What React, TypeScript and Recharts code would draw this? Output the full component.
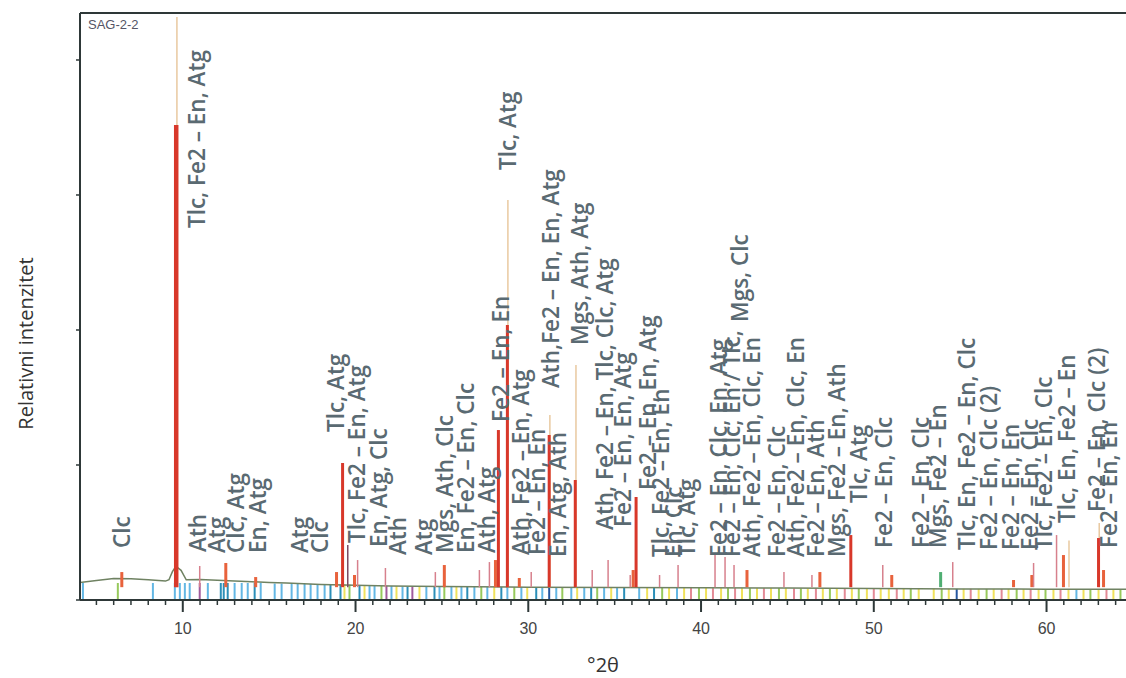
import React from "react"
import { ComposedChart, Line, Scatter, XAxis, YAxis, ReferenceLine } from "recharts"

// 2θ range and intensity scale (arbitrary counts)
const X_MIN = 4.05
const X_MAX = 64.6
const Y_MAX = 4348
const yTicks = [0, 1000, 2000, 3000, 4000]
const majorTicks = [10, 20, 30, 40, 50, 60]
const minorTicks = Array.from({ length: 60 }, (_, i) => i + 5)

// background profile of the diffractogram [2θ, intensity]
const background: [number, number][] = [
  [4.05, 130], [5, 145], [6, 160], [7, 158], [8, 150], [9, 140], [9.2, 150],
  [9.4, 210], [9.6, 250], [9.9, 220], [10.2, 150], [11, 152], [12, 146], [13, 140],
  [14, 135], [15, 130], [16, 125], [17, 120], [18, 115], [20, 110], [22, 104],
  [25, 100], [30, 95], [35, 93], [40, 90], [45, 88], [50, 85], [55, 82],
  [60, 80], [64.6, 80],
]

// measured peaks [2θ, top]
const strongPeaks: [number, number][] = [[9.62, 3518]]
const mainPeaks: [number, number][] = [
  [19.25, 1015], [28.27, 1259], [28.79, 2037], [31.21, 1222],
  [32.72, 889], [36.24, 763], [48.67, 481], [63.01, 459],
]
const tanPeaks: [number, number][] = [
  [9.66, 4318], [28.82, 2963], [31.25, 1370], [32.76, 1741], [61.3, 440], [63.05, 570],
]
const minorPeaks: [number, number][] = [
  [10.98, 252], [20.12, 296], [21.73, 237], [24.62, 207], [27.17, 222],
  [27.75, 281], [30.17, 207], [33.7, 222], [34.62, 296], [35.9, 185],
  [37.6, 185], [38.67, 259], [40.81, 333], [41.39, 318], [41.91, 259],
  [44.8, 207], [46.42, 185], [50.52, 259], [54.57, 281], [59.25, 274], [60.58, 481],
]
const darkPeaks: [number, number][] = [[19.55, 407]]
const bumpPeaks: [number, number][] = [
  [6.47, 207], [12.49, 274], [14.22, 170], [18.9, 207], [19.94, 185],
  [25.14, 259], [28.1, 296], [29.48, 163], [36.07, 222], [42.66, 222],
  [46.88, 207], [51.04, 185], [58.09, 148], [59.15, 185], [60.98, 333], [63.3, 222],
]
const greenPeaks: [number, number][] = [[53.87, 207]]

// reference patterns (sticks) [2θ, height]
const atgSticks: [number, number][] = [
  [4.22, 126], [8.27, 126], [9.54, 126], [9.83, 126], [10.12, 126], [10.4, 126],
  [11.45, 126], [13.0, 126], [13.41, 126], [13.76, 126], [14.51, 126], [15.32, 122],
  [15.72, 122], [16.3, 122], [16.65, 122], [17.05, 120], [17.4, 120], [17.8, 118],
  [18.21, 118], [20.81, 104], [21.1, 104], [22.08, 104], [22.72, 100], [24.1, 100],
  [24.86, 100], [25.55, 100], [26.13, 98], [26.88, 98], [27.63, 96], [28.79, 96],
  [29.6, 96], [30.81, 94], [31.62, 94], [32.49, 94], [33.24, 92], [34.39, 92],
  [35.14, 92], [36.42, 90], [38.61, 90], [61.73, 80],
]
const tlcSticks: [number, number][] = [
  [12.2, 126], [12.37, 126], [12.6, 126], [14.16, 126], [18.55, 118], [19.13, 116],
  [20.23, 108], [23.01, 100], [24.57, 100], [26.47, 98], [28.44, 96], [30.46, 94],
  [33.64, 92], [35.55, 92], [37.28, 90],
]
const enSticks: [number, number][] = [[31.21, 94], [54.8, 82]]
const clcSticks: [number, number][] = [
  [19.36, 116], [20.52, 106], [22.37, 104], [23.7, 100], [25.84, 98], [28.03, 96],
  [29.94, 96], [32.83, 94], [34.8, 92], [36.88, 90], [38.15, 90], [39.02, 90],
  [40.29, 90], [41.16, 88], [42.37, 88], [43.24, 88], [44.05, 88], [44.91, 88],
  [46.18, 86], [47.05, 86], [47.86, 86], [48.73, 86], [49.6, 86], [50.4, 85],
  [50.87, 85], [51.73, 85], [52.6, 84], [53.47, 84], [54.34, 83], [55.2, 83],
  [56.07, 82], [56.94, 82], [57.8, 82], [58.67, 81], [59.54, 81], [60.4, 80],
  [61.27, 80], [62.14, 80], [63.01, 80], [63.87, 80],
]
const fe2Sticks: [number, number][] = [
  [6.24, 126], [19.65, 114], [21.5, 104], [25.14, 100], [27.28, 98], [29.19, 96],
  [31.97, 94], [33.99, 92], [37.75, 90], [39.88, 90], [41.56, 88], [42.83, 88],
  [44.51, 88], [45.78, 86], [47.46, 86], [49.13, 86], [52.14, 84], [53.93, 84],
  [56.53, 82], [58.27, 81], [59.94, 81], [62.54, 80], [64.28, 80],
]
const athSticks: [number, number][] = [
  [39.42, 90], [40.69, 88], [41.97, 88], [43.64, 88], [45.38, 86], [46.65, 86],
  [48.32, 86], [50.0, 85], [51.33, 85], [55.61, 83], [57.4, 82], [59.08, 81],
  [60.81, 80], [63.47, 80],
]
const mgsSticks: [number, number][] = [[10.98, 126], [21.79, 104], [23.29, 100]]

// phase labels [2θ, intensity at label start, text]
const labels: [number, number, string][] = [
  [6.47, 385, "Clc"],
  [10.81, 2755, "Tlc, Fe2 – En, Atg"],
  [10.87, 356, "Ath"],
  [11.97, 348, "Atg"],
  [13.06, 348, "Clc, Atg"],
  [14.34, 348, "En, Atg"],
  [16.76, 348, "Atg"],
  [17.92, 348, "Clc"],
  [18.84, 1244, "Tlc, Atg"],
  [20.06, 422, "Tlc, Fe2 – En, Atg"],
  [21.33, 393, "En, Atg, Clc"],
  [22.43, 333, "Ath"],
  [23.93, 333, "Atg"],
  [25.14, 348, "Mgs, Ath, Clc"],
  [26.36, 348, "En, Fe2 – En, Clc"],
  [27.57, 348, "Ath, Atg"],
  [28.38, 1318, "Fe2 – En, En"],
  [28.79, 3185, "Tlc, Atg"],
  [29.54, 333, "Ath, Fe2 – En, Atg"],
  [30.46, 333, "Fe2 – En, En"],
  [31.27, 1570, "Ath,Fe2 – En, En, Atg"],
  [31.68, 318, "En, Atg, Ath"],
  [32.95, 1889, "Mgs, Ath, Atg"],
  [34.39, 519, "Ath, Fe2 – En, Tlc, Clc, Atg"],
  [35.43, 541, "Fe2 – En, En, Atg"],
  [36.88, 815, "Fe2 – En, En, Atg"],
  [37.63, 318, "Tlc, Fe2 – En, En"],
  [38.38, 318, "En, Clc"],
  [39.13, 318, "Tlc, Atg"],
  [41.04, 318, "Fe2 – En, Clc, En, Atg"],
  [41.79, 318, "Fe2 – En, Clc, En / Tlc,"],
  [42.25, 2059, "Mgs, Clc"],
  [42.95, 318, "Ath, Fe2 – En, Clc, En"],
  [44.34, 318, "Fe2 – En, Clc"],
  [45.49, 318, "Ath, Fe2 – En, Clc, En"],
  [46.65, 318, "Fe2 – En, Ath"],
  [47.86, 318, "Mgs, Fe2 – En, Ath"],
  [49.13, 718, "Tlc, Atg"],
  [50.58, 385, "Fe2 – En, Clc"],
  [52.72, 385, "Fe2 – En, Clc"],
  [53.7, 385, "Mgs, Fe2 – En"],
  [55.38, 370, "Tlc, En, Fe2 – En, Clc"],
  [56.65, 370, "Fe2 – En, Clc (2)"],
  [57.92, 370, "Fe2 – En, En"],
  [59.02, 370, "Fe2 – En, Clc"],
  [59.83, 370, "Tlc, Fe2 – En, Clc"],
  [61.16, 570, "Tlc, En, Fe2 – En"],
  [62.89, 652, "Fe2 – En, Clc (2)"],
  [63.6, 385, "Fe2 – En, En"],
]

const PEAK_BASE = 95
const AXIS = "#2e3838"
const LABEL = "#5a6a72"

const stickGroups = [
  { data: atgSticks, color: "#63b7e4" },
  { data: tlcSticks, color: "#2b8fb8" },
  { data: clcSticks, color: "#f0e25c" },
  { data: fe2Sticks, color: "#97c95c" },
  { data: athSticks, color: "#e38a96" },
  { data: mgsSticks, color: "#a05a9c" },
  { data: enSticks, color: "#2456a0" },
]

const peakGroups = [
  { data: tanPeaks, color: "#e9c9a0", width: 1.5 },
  { data: bumpPeaks, color: "#e8623c", width: 3 },
  { data: greenPeaks, color: "#4fae72", width: 3 },
  { data: minorPeaks, color: "#d7808d", width: 1.5 },
  { data: darkPeaks, color: "#7a4a62", width: 1.5 },
  { data: mainPeaks, color: "#d8382a", width: 3 },
  { data: strongPeaks, color: "#d8382a", width: 4.5 },
]

const bgData = background.map(([x, y]) => ({ x, y }))
const labelData = labels.map(([x, y, text]) => ({ x, y, text }))

const PhaseLabel = (props: any) => {
  const { cx, cy, payload } = props
  return (
    <text
      x={cx}
      y={cy}
      transform={`rotate(-90 ${cx} ${cy})`}
      dominantBaseline="central"
      fontFamily="'Open Sans', sans-serif"
      fontWeight={600}
      fontSize={22.5}
      fill={LABEL}
    >
      {payload.text}
    </text>
  )
}

const XTick = (props: any) => {
  const { x, y, payload } = props
  const major = majorTicks.includes(payload.value)
  return (
    <g>
      <line x1={x} y1={y} x2={x} y2={y + (major ? 12 : 5)} stroke={AXIS} strokeWidth={major ? 2 : 1.5} />
      {major && (
        <text x={x} y={y + 34} textAnchor="middle" fontFamily="'Liberation Sans', Arial, sans-serif" fontSize={16} fill="#444">
          {payload.value}
        </text>
      )}
    </g>
  )
}

export default function App() {
  return (
    <div style={{ position: "absolute", left: 0, top: 0, width: 1126, height: 678, background: "#fff" }}>
      <ComposedChart width={1126} height={678} margin={{ top: 13, right: 0, bottom: 0, left: 0 }}>
        <XAxis
          dataKey="x"
          type="number"
          domain={[X_MIN, X_MAX]}
          ticks={minorTicks}
          interval={0}
          allowDataOverflow
          height={78}
          tickSize={0}
          tickMargin={0}
          tickLine={false}
          tick={<XTick />}
          axisLine={{ stroke: AXIS, strokeWidth: 2 }}
          label={(p: any) => (
            <text
              x={p.viewBox.x + p.viewBox.width / 2}
              y={p.viewBox.y + 72}
              textAnchor="middle"
              fontFamily="'Open Sans', sans-serif"
              fontSize={20}
              fill="#333"
            >
              °2θ
            </text>
          )}
        />
        <YAxis
          type="number"
          domain={[0, Y_MAX]}
          ticks={yTicks}
          width={80}
          tickSize={4}
          tickFormatter={() => ""}
          tickLine={{ stroke: AXIS, strokeWidth: 1.5 }}
          axisLine={{ stroke: AXIS, strokeWidth: 2 }}
          allowDataOverflow
          label={(p: any) => (
            <text
              x={25}
              y={p.viewBox.y + p.viewBox.height / 2 + 37}
              transform={`rotate(-90 25 ${p.viewBox.y + p.viewBox.height / 2 + 37})`}
              textAnchor="middle"
              dominantBaseline="central"
              fontFamily="'Open Sans', sans-serif"
              fontSize={20}
              fill="#333"
            >
              Relativni intenzitet
            </text>
          )}
        />
        <ReferenceLine
          y={Y_MAX}
          stroke={AXIS}
          strokeWidth={2}
          label={(p: any) => (
            <text x={p.viewBox.x + 8} y={p.viewBox.y + 16} fontFamily="'Liberation Sans', Arial, sans-serif" fontSize={13} fill="#556">
              SAG-2-2
            </text>
          )}
        />
        {stickGroups.map((g, gi) =>
          g.data.map(([p, h], i) => (
            <ReferenceLine
              key={`s${gi}-${i}`}
              segment={[{ x: p, y: 0 }, { x: p, y: h }]}
              stroke={g.color}
              strokeWidth={2}
            />
          ))
        )}
        <Line
          data={bgData}
          dataKey="y"
          type="linear"
          stroke="#6f8262"
          strokeWidth={1.5}
          dot={false}
          isAnimationActive={false}
        />
        {peakGroups.map((g, gi) =>
          g.data.map(([p, h], i) => (
            <ReferenceLine
              key={`p${gi}-${i}`}
              segment={[{ x: p, y: PEAK_BASE }, { x: p, y: h }]}
              stroke={g.color}
              strokeWidth={g.width}
            />
          ))
        )}
        <Scatter data={labelData} dataKey="y" shape={<PhaseLabel />} isAnimationActive={false} />
      </ComposedChart>
    </div>
  )
}
